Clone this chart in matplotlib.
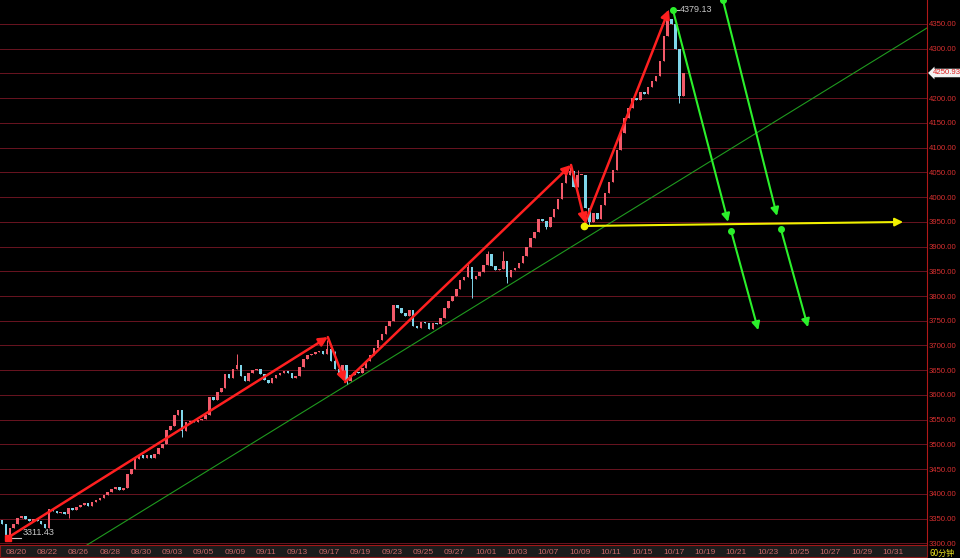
import matplotlib
matplotlib.use("Agg")
import matplotlib.pyplot as plt
import matplotlib.transforms as mtransforms
from matplotlib.patches import Rectangle
import numpy as np

# 60-minute closes, 4 bars per trading day, starting 08/19 (last 2 bars)
closes = [
    3340, 3316, 3330, 3340, 3352, 3356, 3350, 3345, 3350, 3346,
    3340, 3330, 3370, 3366, 3362, 3364, 3360, 3372, 3368, 3374,
    3378, 3382, 3376, 3384, 3388, 3392, 3398, 3404, 3410, 3414,
    3408, 3412, 3440, 3450, 3470, 3478, 3472, 3478, 3473, 3480,
    3492, 3500, 3530, 3538, 3560, 3570, 3528, 3545, 3548, 3545,
    3550, 3552, 3560, 3595, 3590, 3605, 3615, 3642, 3635, 3652,
    3660, 3638, 3628, 3645, 3650, 3652, 3642, 3630, 3625, 3634,
    3640, 3645, 3648, 3644, 3634, 3638, 3656, 3672, 3680, 3682,
    3686, 3688, 3682, 3692, 3668, 3652, 3642, 3660, 3628, 3640,
    3646, 3644, 3654, 3668, 3680, 3694, 3712, 3724, 3740, 3750,
    3782, 3776, 3766, 3760, 3772, 3740, 3736, 3748, 3746, 3734,
    3746, 3744, 3755, 3775, 3790, 3800, 3815, 3832, 3838, 3858,
    3835, 3840, 3848, 3862, 3885, 3860, 3852, 3855, 3870, 3838,
    3852, 3856, 3866, 3880, 3900, 3918, 3930, 3956, 3952, 3940,
    3960, 3975, 3996, 4028, 4045, 4052, 4020, 4045, 4045, 3978,
    3950, 3968, 3955, 3985, 4008, 4030, 4055, 4095, 4130, 4160,
    4180, 4200, 4196, 4212, 4208, 4222, 4235, 4245, 4275, 4325,
    4360, 4350, 4300, 4205, 4250.93,
]
first_open = 3348

# wick extremes that stand out from the bodies
wick_high = {60: 3683, 83: 3712, 85: 3688, 119: 3866, 124: 3892, 128: 3892,
             145: 4060, 147: 4055, 170: 4379.13}
wick_low = {1: 3311.43, 17: 3351, 46: 3515, 88: 3622, 120: 3796, 129: 3826,
            139: 3935, 150: 3942, 173: 4190}

date_labels = ["08/20", "08/22", "08/26", "08/28", "08/30", "09/03", "09/05",
               "09/09", "09/11", "09/13", "09/17", "09/19", "09/23", "09/25",
               "09/27", "10/01", "10/03", "10/07", "10/09", "10/11", "10/15",
               "10/17", "10/19", "10/21", "10/23", "10/25", "10/27", "10/29",
               "10/31"]
price_ticks = list(range(3300, 4351, 50))
last_price = 4250.93
peak_price = 4379.13
low_price = 3311.43

# drawn trend lines (bar index, price)
red_wave = [(1.5, 3311.43), (83.2, 3717), (87.6, 3626), (145.3, 4065),
            (148.9, 3948), (170.3, 4379.13)]
green_support = [(21.7, 3296.6), (236.2, 4341.9)]
green_arrows = [((171.3, 4379.13), (185.4, 3950)),
                ((186.2, 3931), (193.1, 3731)),
                ((184.1, 4398), (197.9, 3962)),
                ((198.9, 3935), (205.8, 3737))]
yellow_line = [(148.6, 3941.6), (230.1, 3949.7)]

fig = plt.figure(figsize=(9.6, 5.58), dpi=100, facecolor="black")
ax = fig.add_axes([0, 13 / 558, 927 / 960, 545 / 558], facecolor="black")

# bottom date strip
fig.add_artist(Rectangle((0, 0.002), 927 / 960, 13 / 558, transform=fig.transFigure,
                         facecolor="#1c1c1c", edgecolor="#8a1818", lw=0.8, zorder=-1))

# candles
n = len(closes)
x = np.arange(n)
c = np.array(closes, dtype=float)
o = np.concatenate([[first_open], c[:-1]])
hi = np.array([wick_high.get(i, max(o[i], c[i])) for i in range(n)])
lo = np.array([wick_low.get(i, min(o[i], c[i])) for i in range(n)])
up = c >= o
body = np.maximum(np.abs(c - o), 0.8)
bottom = np.minimum(o, c)
up_col, down_col = "#f25a6a", "#7fd6ea"
cols = np.where(up, up_col, down_col)
ax.vlines(x, lo, hi, colors=cols, lw=0.7, zorder=3)
ax.bar(x[up], body[up], bottom=bottom[up], width=0.65, color=up_col, zorder=4)
ax.bar(x[~up], body[~up], bottom=bottom[~up], width=0.65, color=down_col, zorder=4)

# thin green support line
ax.plot([p[0] for p in green_support], [p[1] for p in green_support],
        color="#1f9a1f", lw=0.8, zorder=2)

# red wave arrows
for a, b in zip(red_wave[:-1], red_wave[1:]):
    ax.annotate("", xy=b, xytext=a,
                arrowprops=dict(arrowstyle="-|>", color="#ff2020", lw=1.8,
                                mutation_scale=13, shrinkA=0, shrinkB=0), zorder=6)
ax.plot(red_wave[0][0], red_wave[0][1], "s", color="#ff2020", ms=4, zorder=7)

# green projection arrows
for a, b in green_arrows:
    ax.annotate("", xy=b, xytext=a, annotation_clip=False,
                arrowprops=dict(arrowstyle="-|>", color="#2bf02b", lw=1.5,
                                mutation_scale=12, shrinkA=0, shrinkB=0), zorder=6)
    ax.plot(a[0], a[1], "o", color="#2bf02b", ms=4, zorder=7, clip_on=False)

# yellow horizontal arrow
ax.annotate("", xy=yellow_line[1], xytext=yellow_line[0],
            arrowprops=dict(arrowstyle="-|>", color="#f0f000", lw=1.5,
                            mutation_scale=12, shrinkA=0, shrinkB=0), zorder=6)
ax.plot(yellow_line[0][0], yellow_line[0][1], "o", color="#f0f000", ms=4.5, zorder=7)

# extreme price labels
ax.plot([2.2, 4.8], [low_price, low_price], color="#c8c8c8", lw=0.8, zorder=5)
ax.text(5.2, 3322, f"{low_price:.2f}", color="#c8c8c8", fontsize=6.5,
        family="Liberation Sans", va="center", ha="left", zorder=5)
ax.plot([171.3, 172.9], [peak_price, peak_price], color="#c8c8c8", lw=0.8, zorder=5)
ax.text(173.1, peak_price, f"{peak_price:.2f}", color="#c8c8c8", fontsize=6.5,
        family="Liberation Sans", va="center", ha="left", zorder=5)

# axes
ax.set_xlim(-0.51, 236.2)
ax.set_ylim(3296.6, 4398.5)
ax.yaxis.tick_right()
# the 4250 label sits under the current-price box
ax.set_yticks(price_ticks, ["" if v == 4250 else f"{v:.2f}" for v in price_ticks])
ax.set_xticks([3.5 + 8 * k for k in range(len(date_labels))], date_labels)
ax.tick_params(axis="y", labelcolor="#d83030", color="#b01818", length=0,
               labelsize=5.6, pad=1.2)
ax.tick_params(axis="x", labelcolor="#c86a6a", length=0, labelsize=6, pad=3)
for lab in ax.get_xticklabels() + ax.get_yticklabels():
    lab.set_family("Liberation Sans")
ax.grid(axis="y", color="#6a1420", lw=0.7)
ax.set_axisbelow(True)
for s in ["left", "top"]:
    ax.spines[s].set_visible(False)
ax.spines["right"].set_color("#b01818")
ax.spines["bottom"].set_color("#a01818")

# current price box
trans = mtransforms.blended_transform_factory(ax.transAxes, ax.transData)
ax.text(1.006, last_price, f"{last_price:.2f}", transform=trans, color="#e02020",
        fontsize=5.6, family="Liberation Sans", va="center", ha="left", zorder=10,
        bbox=dict(boxstyle="larrow,pad=0.1", facecolor="#f2f2f2", edgecolor="none"),
        clip_on=False)

fig.text(0.9685, 0.0, "60分钟", color="#e8e020", fontsize=5.8,
         family=["Noto Sans CJK SC", "DejaVu Sans"], ha="left", va="bottom")

fig.savefig("out.png", dpi=100, facecolor="black")
